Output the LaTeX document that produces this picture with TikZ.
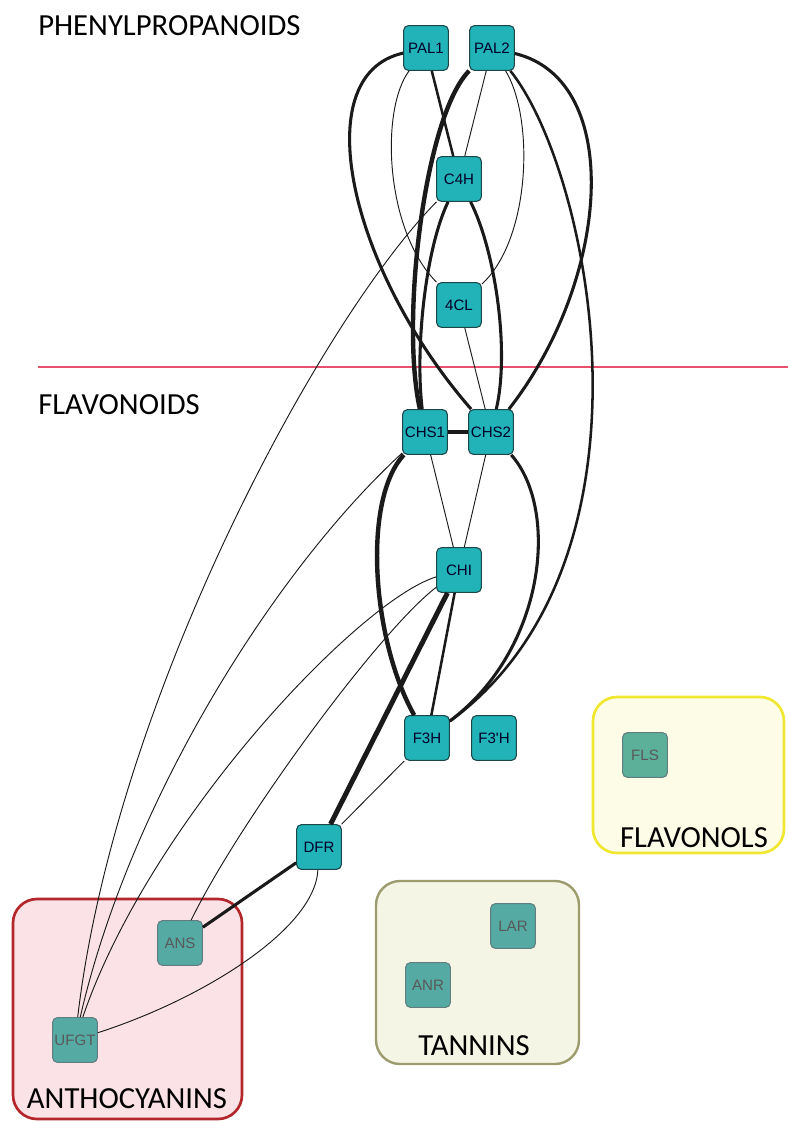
\documentclass[tikz,border=0pt]{standalone}
\usepackage{fontspec}
\setmainfont{Carlito}
\newfontfamily\genefont{Liberation Sans}
\usetikzlibrary{calc}

\definecolor{geneteal}{HTML}{21B3B8}
\definecolor{genedull}{HTML}{55AAA4}
\definecolor{genegreen}{HTML}{5CB09A}
\definecolor{geneline}{HTML}{1C4548}
\definecolor{edgeink}{HTML}{1A1A1A}
\definecolor{sepred}{HTML}{E8506E}
\definecolor{tanfill}{HTML}{F5F5E6}
\definecolor{tanline}{HTML}{9C9C6E}
\definecolor{flofill}{HTML}{FDFCE6}
\definecolor{floline}{HTML}{F0E830}
\definecolor{antfill}{HTML}{FBE2E6}
\definecolor{antline}{HTML}{B3262C}

\tikzset{
	gene/.style={rectangle, rounded corners=3.5pt, minimum size=33.5pt, inner sep=0pt,
		draw=geneline, line width=0.8pt, fill=geneteal, font=\genefont\fontsize{11.3}{13}\selectfont,
		text=black!85!blue},
	dullgene/.style={gene, fill=genedull, draw=geneline!70, text=black!65},
	grouplabel/.style={font=\fontsize{23}{26}\selectfont, inner sep=0pt, text=black},
	thinedge/.style={draw=edgeink, line width=0.7pt},
	midedge/.style={draw=edgeink, line width=1.9pt},
	thickedge/.style={draw=edgeink, line width=2.3pt},
	heavyedge/.style={draw=edgeink, line width=3.3pt}
}

\begin{document}
\begin{tikzpicture}[x=0.75pt, y=-0.75pt]
		%%%%% START %%%%%
		\useasboundingbox (0, 0) rectangle (788, 1121);
		
		% group boxes
		\draw[line width=2pt, draw=antline, fill=antfill, rounded corners=18pt] (13, 899) rectangle (242, 1119);
		\draw[line width=1.8pt, draw=tanline, fill=tanfill, rounded corners=18pt] (376, 881) rectangle (579, 1064);
		\draw[line width=2pt, draw=floline, fill=flofill, rounded corners=18pt] (593, 697) rectangle (784, 853);
		
		% separator
		\draw[line width=1.9pt, color=sepred] (38, 367) -- (788, 367);
		
		% labels
		\node[grouplabel, anchor=west] (phenlab) at (38, 26) {PHENYLPROPANOIDS};
		\node[grouplabel, anchor=west] (flavlab) at (38, 405) {FLAVONOIDS};
		\node[grouplabel] (flolab) at (694, 838) {FLAVONOLS};
		\node[grouplabel] (tanlab) at (474, 1046) {TANNINS};
		\node[grouplabel] (antlab) at (127, 1099) {ANTHOCYANINS};
		
		% genes
		\node[gene] (PAL1) at (426, 48) {PAL1};
		\node[gene] (PAL2) at (492, 48) {PAL2};
		\node[gene] (C4H) at (459, 179) {C4H};
		\node[gene] (4CL) at (459, 305) {4CL};
		\node[gene] (CHS1) at (425, 432) {CHS1};
		\node[gene] (CHS2) at (491, 432) {CHS2};
		\node[gene] (CHI) at (459, 570) {CHI};
		\node[gene] (F3H) at (427, 738) {F3H};
		\node[gene] (F3pH) at (494, 738) {F3\textquotesingle H};
		\node[gene] (DFR) at (319, 847) {DFR};
		\node[dullgene] (ANS) at (180, 943) {ANS};
		\node[dullgene] (UFGT) at (75, 1040) {UFGT};
		\node[dullgene, fill=genegreen] (FLS) at (645, 755) {FLS};
		\node[dullgene] (LAR) at (513, 926) {LAR};
		\node[dullgene] (ANR) at (428, 985) {ANR};
		
		% phenylpropanoid links
		\draw[midedge] (PAL1) -- (C4H);
		\draw[thinedge] (PAL1) .. controls (380, 110) and (385, 230) .. (4CL);
		\draw[thickedge] (PAL1) .. controls (305, 75) and (350, 270) .. (CHS2);
		\draw[heavyedge] (PAL2) .. controls (425, 115) and (400, 320) .. (CHS1);
		\draw[thinedge] (PAL2) -- (C4H);
		\draw[thinedge] (PAL2) .. controls (535, 120) and (530, 240) .. (4CL);
		\draw[thickedge] (PAL2) .. controls (625, 80) and (610, 280) .. (CHS2);
		\draw[midedge] (PAL2) .. controls (590, 170) and (670, 560) .. (F3H);
		\draw[thickedge] (C4H) .. controls (425, 250) and (415, 350) .. (CHS1);
		\draw[thickedge] (C4H) .. controls (495, 250) and (510, 350) .. (CHS2);
		\draw[thinedge] (C4H) .. controls (320, 320) and (115, 700) .. (UFGT);
		\draw[thinedge] (4CL) -- (CHS2);
		
		% flavonoid links
		\draw[heavyedge] (CHS1) -- (CHS2);
		\draw[thinedge] (CHS1) -- (CHI);
		\draw[thinedge] (CHS1) .. controls (275, 570) and (130, 800) .. (UFGT);
		\draw[thinedge] (CHS2) -- (CHI);
		\draw[heavyedge] (CHS1) .. controls (362, 500) and (372, 640) .. (F3H);
		\draw[thickedge] (CHS2) .. controls (560, 510) and (545, 650) .. (F3H);
		\draw[midedge] (CHI) -- (F3H);
		\draw[heavyedge, line width=3.7pt] (CHI) -- (DFR);
		\draw[thinedge] (CHI) .. controls (360, 600) and (150, 820) .. (UFGT);
		\draw[thinedge] (CHI) .. controls (380, 630) and (240, 820) .. (ANS);
		\draw[thinedge] (F3H) -- (DFR);
		\draw[thickedge] (DFR) -- (ANS);
		\draw[thinedge] (DFR) .. controls (315, 930) and (200, 1000) .. (UFGT);
		
		%%%%% END %%%%%
	\end{tikzpicture}
\end{document}
